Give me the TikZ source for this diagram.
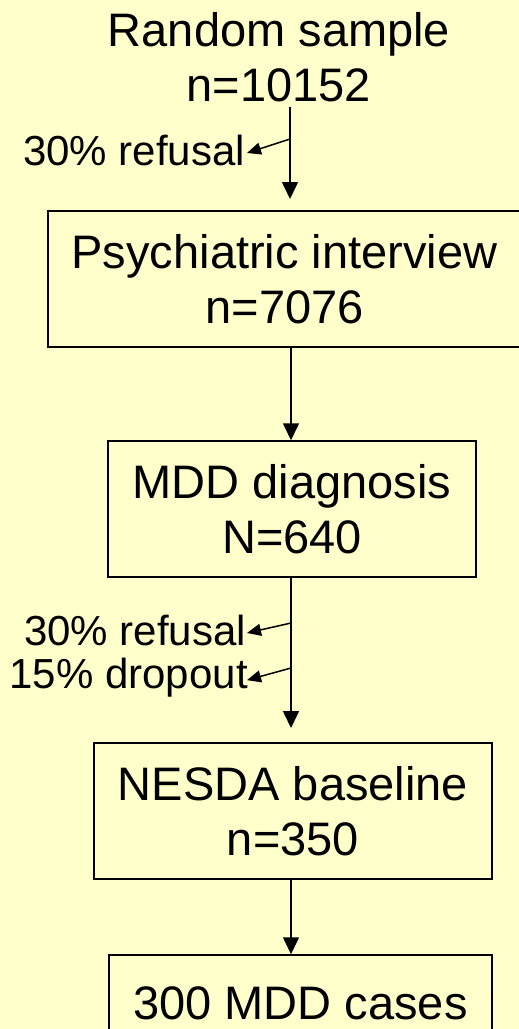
\documentclass[tikz,border=0pt]{standalone}
\usepackage{fontspec}
\setmainfont{Liberation Sans}
\usetikzlibrary{arrows.meta}
\definecolor{bgyellow}{HTML}{FFFFCC}
\begin{document}
\begin{tikzpicture}[x=1pt,y=-1pt,
  big/.style={font=\fontsize{47}{55}\selectfont, align=center},
  small/.style={font=\fontsize{42}{48}\selectfont, inner sep=0pt},
  stepbox/.style={big, draw=black, line width=1.5pt, fill=bgyellow, inner sep=0pt},
  flow/.style={line width=1.6pt, -{Triangle[length=17pt,width=16pt]}},
  side/.style={line width=1.5pt, -{Triangle[length=14pt,width=12pt]}}]
\fill[bgyellow] (0,0) rectangle (519,1029);
\useasboundingbox (0,0) rectangle (519,1029);
% nodes
\node[big, inner sep=0pt] (top) at (279,57) {Random sample\\n=10152};
\node[stepbox, minimum width=473pt, minimum height=136pt] (psy) at (284.5,279) {Psychiatric interview\\n=7076};
\node[stepbox, minimum width=368pt, minimum height=136pt] (mdd) at (292,509) {MDD diagnosis\\N=640};
\node[stepbox, minimum width=398pt, minimum height=136pt] (nesda) at (293,811) {NESDA baseline\\n=350};
\node[stepbox, minimum width=383pt, minimum height=96pt] (cases) at (300.5,1003) {300 MDD cases};
% side labels
\node[small, anchor=base east] (ref1) at (245,165) {30\% refusal};
\node[small, anchor=base east] (ref2) at (246,645) {30\% refusal};
\node[small, anchor=base east] (drop) at (248,688) {15\% dropout};
% coordinates on the main column
\coordinate (ax) at (291,0);
\coordinate (a1s) at (290,107);
\coordinate (a1e) at (290,199);
\coordinate (a3e) at (291,728);
\coordinate (b1) at (290,139);
\coordinate (b2) at (291,623);
\coordinate (b3) at (291,668);
% connectors
\draw[flow] (a1s) -- (a1e);
\draw[flow] (psy.south -| ax) -- (mdd.north -| ax);
\draw[flow] (mdd.south -| ax) -- (a3e);
\draw[flow] (nesda.south -| ax) -- (cases.north -| ax);
\draw[side] (b1) -- ([xshift=2pt,yshift=-3pt]ref1.east);
\draw[side] (b2) -- ([xshift=1pt,yshift=-3pt]ref2.east);
\draw[side] (b3) -- ([xshift=-1pt,yshift=-3pt]drop.east);
\end{tikzpicture}
\end{document}
